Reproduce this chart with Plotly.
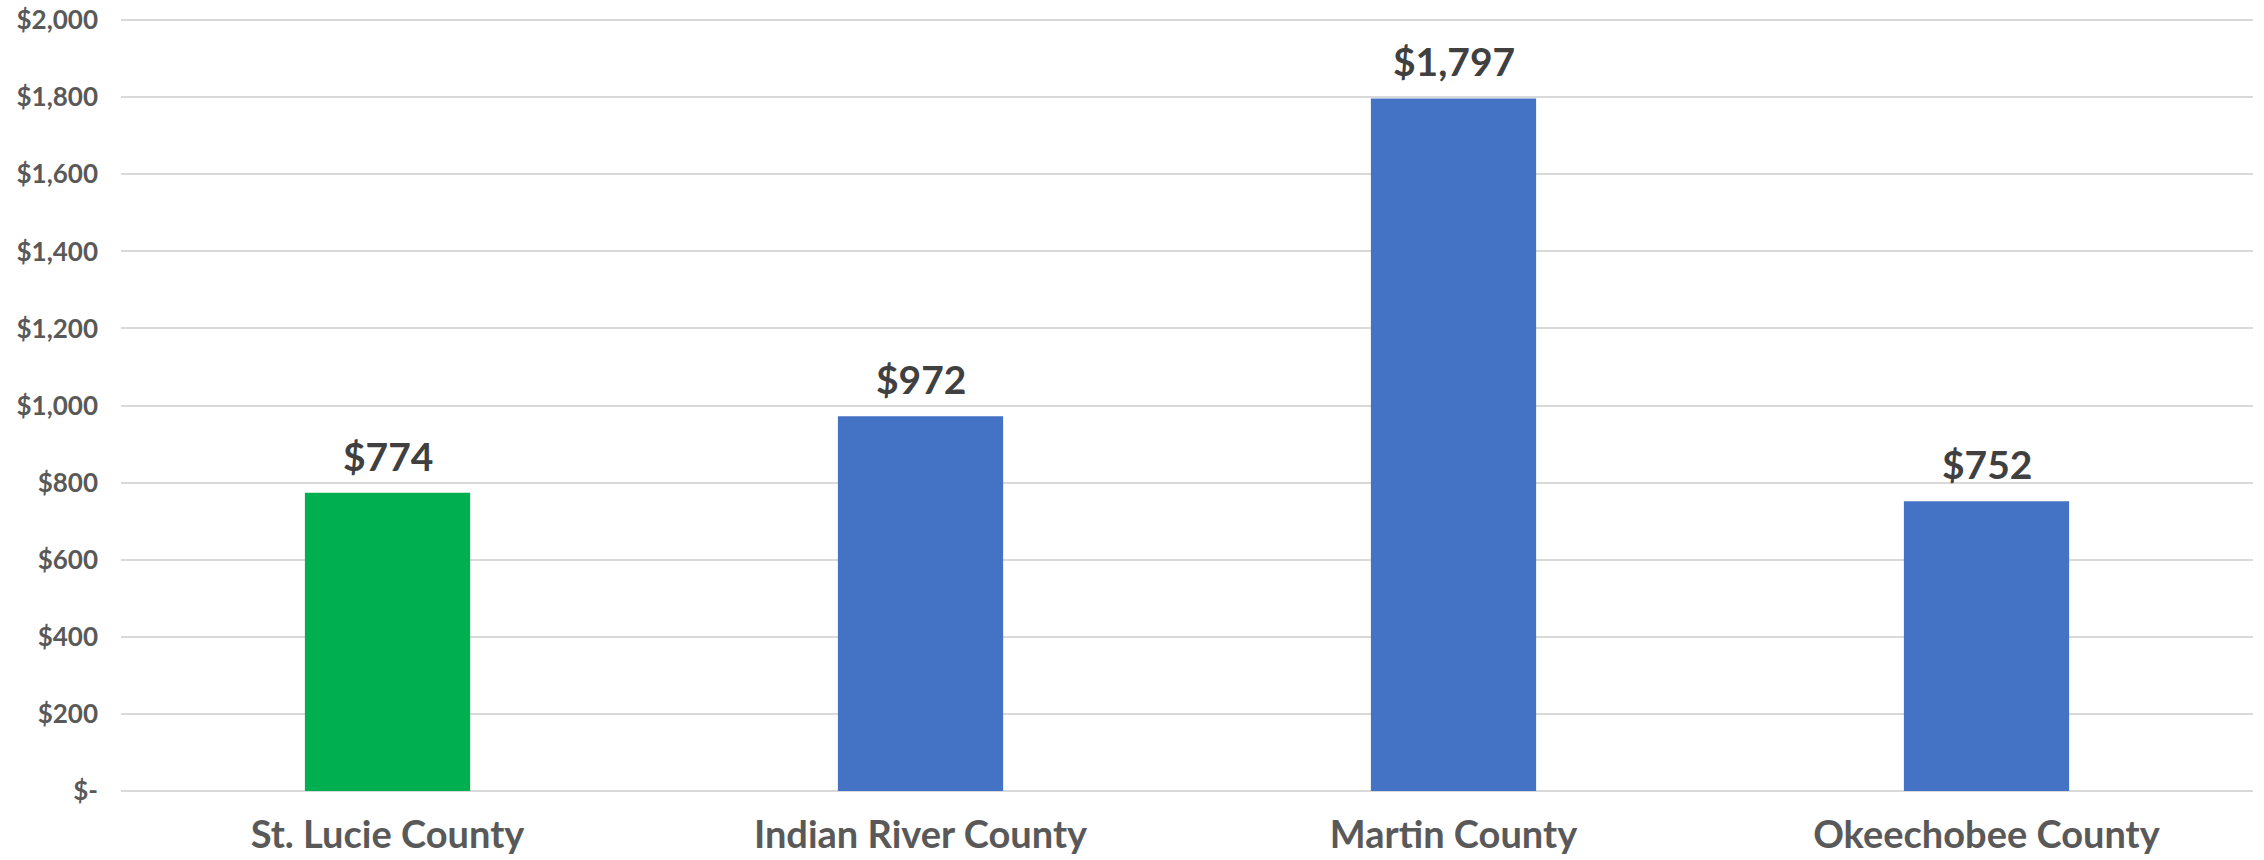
import plotly.graph_objects as go

categories = ["St. Lucie County", "Indian River County", "Martin County", "Okeechobee County"]
values = [774, 972, 1797, 752]
bar_colors = ["#00B050", "#4472C4", "#4472C4", "#4472C4"]
tick_vals = [0, 200, 400, 600, 800, 1000, 1200, 1400, 1600, 1800, 2000]
tick_text = ["$-", "$200", "$400", "$600", "$800", "$1,000", "$1,200", "$1,400", "$1,600", "$1,800", "$2,000"]

FONT = "Lato"

fig = go.Figure()
fig.add_trace(go.Bar(
    x=categories,
    y=values,
    marker=dict(color=bar_colors, line=dict(width=0)),
    hoverinfo="skip",
))

for c, v in zip(categories, values):
    fig.add_annotation(
        x=c, y=v, text=f"<b>${v:,}</b>", showarrow=False,
        yanchor="bottom", yshift=12,
        font=dict(family=FONT, size=39, color="#404040"),
    )

fig.update_layout(
    width=2264, height=860,
    margin=dict(l=121, r=11, t=19, b=69, autoexpand=False),
    paper_bgcolor="white", plot_bgcolor="white",
    bargap=0.69,
    showlegend=False,
    font=dict(family=FONT, color="#595959"),
)
fig.update_xaxes(
    showgrid=False, showline=False, ticks="", automargin=False,
    tickfont=dict(family=FONT, size=38, color="#595959", weight="bold"),
    ticklabelstandoff=18,
)
fig.update_yaxes(
    range=[0, 2003], tickvals=tick_vals, ticktext=tick_text, automargin=False,
    showgrid=True, gridcolor="#D9D9D9", gridwidth=2,
    zeroline=True, zerolinecolor="#D9D9D9", zerolinewidth=2,
    showline=False, ticks="",
    tickfont=dict(family=FONT, size=26, color="#595959", weight="bold"),
    ticklabelstandoff=22,
)

fig.write_html(
    "out.html",
    config={"displayModeBar": False},
    post_script="document.body.style.margin='0';document.body.style.padding='0';",
)
